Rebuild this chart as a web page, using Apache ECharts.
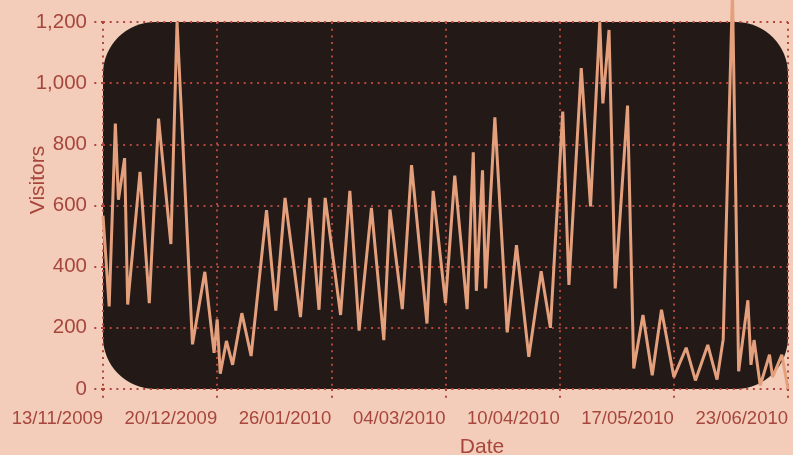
<!DOCTYPE html>
<html>
<head>
<meta charset="utf-8">
<script src="https://cdn.jsdelivr.net/npm/echarts@6/dist/echarts.min.js"></script>
<style>
  html, body { margin: 0; padding: 0; background: #f3cdb9; }
  #chart { width: 793px; height: 455px; }
</style>
</head>
<body>
<div id="chart"></div>
<script>
// ---- data ----
var startDate = '2009-11-13';
var endDate = '2010-06-23';
var tickDays = 37;
var yTicks = [0, 200, 400, 600, 800, 1000, 1200];

var dates = [
  '2009-11-13','2009-11-15','2009-11-17','2009-11-18','2009-11-20','2009-11-21','2009-11-25','2009-11-28',
  '2009-12-01','2009-12-05','2009-12-07','2009-12-12','2009-12-16','2009-12-19','2009-12-20','2009-12-21',
  '2009-12-23','2009-12-25','2009-12-28','2009-12-31',
  '2010-01-05','2010-01-08','2010-01-11','2010-01-16','2010-01-19','2010-01-22','2010-01-24','2010-01-29',
  '2010-02-01','2010-02-04','2010-02-08','2010-02-12','2010-02-14','2010-02-18','2010-02-21','2010-02-26','2010-02-28',
  '2010-03-04','2010-03-07','2010-03-11','2010-03-13','2010-03-14','2010-03-16','2010-03-17','2010-03-20',
  '2010-03-24','2010-03-27','2010-03-31',
  '2010-04-04','2010-04-07','2010-04-11','2010-04-13','2010-04-17','2010-04-20','2010-04-23','2010-04-24',
  '2010-04-26','2010-04-28',
  '2010-05-02','2010-05-04','2010-05-07','2010-05-10','2010-05-13','2010-05-17','2010-05-21','2010-05-24',
  '2010-05-28','2010-05-31',
  '2010-06-02','2010-06-05','2010-06-07','2010-06-10','2010-06-11','2010-06-12','2010-06-14','2010-06-17',
  '2010-06-18','2010-06-21','2010-06-23'
];
var visitors = [
  567, 270, 868, 619, 755, 276, 710, 281,
  884, 474, 1200, 146, 383, 118, 228, 50,
  157, 79, 248, 108,
  585, 256, 625, 235, 625, 259, 625, 242,
  648, 191, 592, 160, 587, 261, 732, 214, 648,
  281, 698, 261, 774, 321, 715, 329, 888,
  185, 470, 105,
  385, 200, 907, 340, 1049, 597, 1200, 934,
  1174, 329,
  927, 67, 242, 45, 259, 39, 135, 28,
  144, 31,
  163, 1300, 58, 290, 79, 160, 11, 112,
  39, 112, 0
];

// ---- build ----
var DAY = 86400000;
var t0 = Date.parse(startDate);
function dayOffset(s) { return Math.round((Date.parse(s) - t0) / DAY); }
function pad(n) { return (n < 10 ? '0' : '') + n; }
function fmtDay(off) {
  var d = new Date(t0 + off * DAY);
  return pad(d.getUTCDate()) + '/' + pad(d.getUTCMonth() + 1) + '/' + d.getUTCFullYear();
}
var seriesData = dates.map(function (d, i) { return [dayOffset(d), visitors[i]]; });

var labelColor = '#a6463d';
var dotColor = '#b1463d';
var dotted = { color: dotColor, width: 2, type: [2, 4.7] };
var font = 'Liberation Sans, Arial, Helvetica, sans-serif';

var G = { left: 103, top: 22, width: 685, height: 367 };

var chart = echarts.init(document.getElementById('chart'), null, { renderer: 'canvas' });
chart.setOption({
  backgroundColor: '#f3cdb9',
  animation: false,
  grid: { left: G.left, top: G.top, width: G.width, height: G.height, containLabel: false, outerBoundsMode: 'none' },
  graphic: [{
    type: 'rect',
    z: -10,
    shape: { x: G.left, y: G.top, width: G.width, height: G.height, r: 52 },
    style: { fill: '#231a18' },
    silent: true
  }],
  xAxis: {
    type: 'value',
    min: 0,
    max: dayOffset(endDate),
    interval: tickDays,
    name: 'Date',
    nameLocation: 'middle',
    nameGap: 48,
    nameMoveOverlap: false,
    nameTextStyle: { color: labelColor, fontSize: 21, fontFamily: font, padding: [0, 0, 0, 73] },
    axisLine: { show: false },
    axisTick: { show: true, length: 13, lineStyle: dotted },
    axisLabel: {
      color: labelColor, fontSize: 18.5, fontFamily: font, margin: 20, align: 'right',
      formatter: function (v) { return fmtDay(v); }
    },
    splitLine: { show: true, lineStyle: dotted }
  },
  yAxis: {
    type: 'value',
    min: yTicks[0],
    max: yTicks[yTicks.length - 1],
    interval: yTicks[1] - yTicks[0],
    name: 'Visitors',
    nameLocation: 'middle',
    nameGap: 54,
    nameMoveOverlap: false,
    nameTextStyle: { color: labelColor, fontSize: 21, fontFamily: font, padding: [0, 0, 0, 51] },
    axisLine: { show: false },
    axisTick: { show: true, length: 13, lineStyle: dotted },
    axisLabel: {
      color: labelColor, fontSize: 20.5, fontFamily: font, margin: 16,
      formatter: function (v) { return v.toLocaleString('en-US'); }
    },
    splitLine: { show: true, lineStyle: dotted }
  },
  series: [{
    type: 'line',
    data: seriesData,
    showSymbol: false,
    clip: false,
    lineStyle: { color: '#e4a07c', width: 3 },
    itemStyle: { color: '#e4a07c' },
    z: 5
  }]
});
</script>
</body>
</html>
